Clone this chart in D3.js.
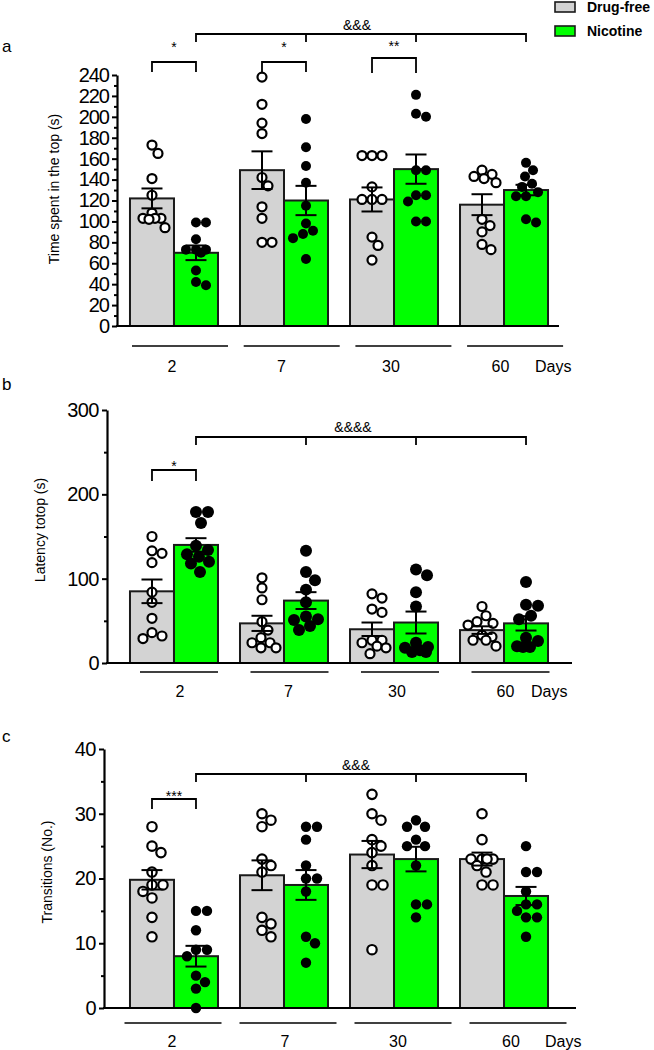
<!DOCTYPE html>
<html><head><meta charset="utf-8">
<script src="https://cdn.jsdelivr.net/npm/d3@7"></script>
<style>
body{margin:0;background:#fff}
svg{display:block}
text{font-family:"Liberation Sans",Arial,Helvetica,sans-serif;fill:#000}
</style>
</head><body>
<svg id="chart" width="654" height="1050"></svg>
<script>
// ---------------- DATA ----------------
const days = ["2", "7", "30", "60"];
const series = ["Drug-free", "Nicotine"];

// Panel a: Time spent in the top (s)
const timeTicks = [0,20,40,60,80,100,120,140,160,180,200,220,240];
const timeMinor = [10,30,50,70,90,110,130,150,170,190,210,230];
const timeDrugFreeMean = [122, 149, 121, 116];
const timeDrugFreeSem  = [9.5, 18, 11.5, 10];
const timeNicotineMean = [70, 120, 150, 130];
const timeNicotineSem  = [7, 14, 14, 5];
const timeDrugFreePts = [
  [173,165,141,125,108,103,103,103,102,94],
  [238,212,194,184,142,134,114,103,80,80],
  [163,163,163,133,121,121,121,85,77,63],
  [149,145,143,141,137,102,96,90,78,73]
];
const timeNicotinePts = [
  [99,99,83,73,73,73,70,53,39,42],
  [198,171,153,137,115,98,91,88,84,64],
  [221,203,200,149,149,125,125,119,100,100],
  [156,149,143,136,133,128,124,124,102,99]
];

// Panel b: Latency to top (s)
const latTicks = [0,100,200,300];
const latMinor = [50,150,250];
const latDrugFreeMean = [85, 47, 40, 39];
const latDrugFreeSem  = [14, 9, 8, 4.5];
const latNicotineMean = [140, 74, 48, 47];
const latNicotineSem  = [8, 10, 13, 8.5];
const latDrugFreePts = [
  [150,133,130,119,84,72,53,36,32,29],
  [101,89,75,49,39,30,24,24,18,18],
  [82,77,64,60,27,27,24,20,18,11],
  [67,56,49,47,45,33,31,27,27,20]
];
const latNicotinePts = [
  [179,179,166,139,134,129,126,120,118,108],
  [133,108,98,87,72,55,52,51,44,39],
  [111,104,84,67,24,19,18,15,13,13],
  [96,69,68,56,52,30,26,20,19,19]
];

// Panel c: Transitions (No.)
const transTicks = [0,10,20,30,40];
const transMinor = [5,15,25,35];
const transDrugFreeMean = [19.8, 20.5, 23.7, 23];
const transDrugFreeSem  = [1.5, 2.3, 2.1, 1.0];
const transNicotineMean = [8, 19, 23, 17.3];
const transNicotineSem  = [1.6, 2.3, 1.9, 1.4];
const transDrugFreePts = [
  [28,25,24,21,19,19,18,17,14,11],
  [30,29,28,23,22,21,14,13,12,11],
  [33,30,29,26,25,24,22,19,19,9],
  [30,26,23,23,23,23,22,21,19,19]
];
const transNicotinePts = [
  [15,15,12,9,9,8,5,4,3,0],
  [28,28,26,22,20,20,18,11,10,7],
  [29,28,28,26,25,25,22,16,16,14],
  [25,21,21,18,16,16,15,14,14,11]
];

// significance annotations
const sigA = [{day:"2", label:"*"}, {day:"7", label:"*"}, {day:"30", label:"**"}];
const sigB = [{day:"2", label:"*"}];
const sigC = [{day:"2", label:"***"}];
const longA = "&&&", longB = "&&&&", longC = "&&&";

// ---------------- LAYOUT ----------------
const svg = d3.select("#chart");
const colors = {"Drug-free":"#d3d3d3", "Nicotine":"#00ff00"};
const x = d3.scaleBand().domain(days).range([117, 561]).paddingInner(0.2).paddingOuter(0.118);
const xs = d3.scaleBand().domain(series).range([0, x.bandwidth()]).padding(0);
const barCenter = (d, s) => x(d) + xs(s) + xs.bandwidth() / 2;

const panels = [
  {letter:"a", letterY:52, title:"Time spent in the top (s)", titleX:54, titleY:189,
   ticks:timeTicks, minor:timeMinor, domain:[0,240], yr:[326,75], axisX:117, xEnd:559, fs:20, ls:-1,
   mean:[timeDrugFreeMean, timeNicotineMean], sem:[timeDrugFreeSem, timeNicotineSem],
   pts:[timeDrugFreePts, timeNicotinePts], r:[5,5],
   ul:{y:346, start:180, step:111.7, w:96}, lab:{y:372, start:172, step:109.5}, daysX:535,
   sig:sigA, sigTop:[62,62,58], sigLeg:[72,72,73], sigText:[52,52,51],
   long:longA, longY:34, longLeg:42, longTextX:357, longTextY:30},
  {letter:"b", letterY:390, title:"Latency totop (s)", titleX:40, titleY:530,
   ticks:latTicks, minor:latMinor, domain:[0,300], yr:[663,410], axisX:107, xEnd:572, fs:20, ls:-0.5,
   mean:[latDrugFreeMean, latNicotineMean], sem:[latDrugFreeSem, latNicotineSem],
   pts:[latDrugFreePts, latNicotinePts], r:[5,6],
   ul:{y:672, start:179, step:110.5, w:78}, lab:{y:697, start:180, step:108.5}, daysX:531,
   sig:sigB, sigTop:[470], sigLeg:[481], sigText:[471],
   long:longB, longY:437, longLeg:445, longTextX:353, longTextY:432},
  {letter:"c", letterY:742, title:"Transitions (No.)", titleX:47, titleY:872,
   ticks:transTicks, minor:transMinor, domain:[0,40], yr:[1008,749], axisX:104, xEnd:576, fs:20, ls:-0.5,
   mean:[transDrugFreeMean, transNicotineMean], sem:[transDrugFreeSem, transNicotineSem],
   pts:[transDrugFreePts, transNicotinePts], r:[5.2,5.2],
   ul:{y:1023, start:173, step:115, w:97}, lab:{y:1047, start:172, step:113}, daysX:545,
   sig:sigC, sigTop:[799], sigLeg:[809], sigText:[801],
   long:longC, longY:774, longLeg:782, longTextX:356, longTextY:770}
];

// deterministic swarm layout, constrained to the bar width
function swarm(vals, cx, y, r, maxOff) {
  const placed = [];
  const order = vals.map((v, i) => ({v, i})).sort((a, b) => b.v - a.v);
  const minD = 2 * r;
  const cands = [0];
  for (let o = 1; o <= maxOff; o += 1) { cands.push(o, -o); }
  for (const p of order) {
    const py = y(p.v);
    let best = null, bestScore = -1;
    for (const off of cands) {
      const px = cx + off;
      const d = placed.length ? d3.min(placed, q => Math.hypot(q.x - px, q.y - py)) : Infinity;
      if (d >= minD) { best = px; break; }
      if (d > bestScore) { bestScore = d; best = px; }
    }
    placed.push({x: best, y: py, v: p.v});
  }
  return placed;
}

panels.forEach(P => {
  const g = svg.append("g");
  const y = d3.scaleLinear().domain(P.domain).range(P.yr);

  // panel letter
  g.append("text").attr("x", 2).attr("y", P.letterY).attr("font-size", 17).text(P.letter);

  // y title
  g.append("text").attr("transform", `translate(${P.titleX},${P.titleY}) rotate(-90)`)
    .attr("text-anchor", "middle").attr("dominant-baseline", "central")
    .attr("font-size", 14).text(P.title);

  // bars
  series.forEach((s, si) => {
    g.selectAll(null).data(days).join("rect")
      .attr("x", d => x(d) + xs(s))
      .attr("width", xs.bandwidth())
      .attr("y", (d, i) => y(P.mean[si][i]))
      .attr("height", (d, i) => y(0) - y(P.mean[si][i]))
      .attr("fill", colors[s]).attr("stroke", "#1a1a1a").attr("stroke-width", 2);
  });

  // points
  series.forEach((s, si) => {
    days.forEach((d, di) => {
      const r = P.r[si];
      const pos = swarm(P.pts[si][di], barCenter(d, s), y, r, xs.bandwidth() / 2 - r - 3);
      g.selectAll(null).data(pos).join("circle")
        .attr("cx", p => p.x).attr("cy", p => p.y)
        .attr("r", si === 0 ? r - 0.5 : r)
        .attr("fill", si === 0 ? "#fff" : "#000")
        .attr("stroke", "#000").attr("stroke-width", si === 0 ? 2.2 : 0);
    });
  });

  // error bars
  series.forEach((s, si) => {
    days.forEach((d, di) => {
      const cx = barCenter(d, s), m = P.mean[si][di], e = P.sem[si][di];
      const eg = g.append("g").attr("stroke", "#000").attr("stroke-width", 2);
      eg.append("line").attr("x1", cx).attr("x2", cx).attr("y1", y(m - e)).attr("y2", y(m + e));
      [m - e, m + e].forEach(v => eg.append("line").attr("x1", cx - 10.5).attr("x2", cx + 10.5)
        .attr("y1", y(v)).attr("y2", y(v)));
    });
  });

  // y axis
  const ax = g.append("g").attr("transform", `translate(${P.axisX},0)`)
    .call(d3.axisLeft(y).tickValues(P.ticks).tickSize(5).tickSizeOuter(0).tickPadding(3));
  ax.select(".domain").attr("stroke-width", 2.2);
  ax.selectAll(".tick line").attr("stroke-width", 2);
  ax.selectAll(".tick text").attr("font-size", P.fs)
    .attr("font-family", "'Liberation Sans',Arial,sans-serif").attr("letter-spacing", P.ls);
  const axm = g.append("g").attr("transform", `translate(${P.axisX},0)`)
    .call(d3.axisLeft(y).tickValues(P.minor).tickSize(3).tickSizeOuter(0).tickFormat(""));
  axm.select(".domain").remove();
  axm.selectAll(".tick line").attr("stroke-width", 2);

  // x axis baseline
  g.append("line").attr("x1", P.axisX - 1).attr("x2", P.xEnd).attr("y1", y(0)).attr("y2", y(0))
    .attr("stroke", "#000").attr("stroke-width", 2.2);

  // group underlines + labels
  days.forEach((d, i) => {
    const uc = P.ul.start + i * P.ul.step;
    g.append("line").attr("x1", uc - P.ul.w / 2).attr("x2", uc + P.ul.w / 2)
      .attr("y1", P.ul.y).attr("y2", P.ul.y).attr("stroke", "#000").attr("stroke-width", 1.6);
    g.append("text").attr("x", P.lab.start + i * P.lab.step).attr("y", P.lab.y)
      .attr("text-anchor", "middle").attr("font-size", 16).text(d);
  });
  g.append("text").attr("x", P.daysX).attr("y", P.lab.y).attr("font-size", 16).text("Days");

  // significance brackets (pairwise)
  P.sig.forEach((sg, i) => {
    const x1 = barCenter(sg.day, "Drug-free"), x2 = barCenter(sg.day, "Nicotine");
    g.append("path").attr("d", `M${x1},${P.sigLeg[i]}V${P.sigTop[i]}H${x2}V${P.sigLeg[i]}`)
      .attr("fill", "none").attr("stroke", "#000").attr("stroke-width", 1.8);
    g.append("text").attr("x", (x1 + x2) / 2).attr("y", P.sigText[i])
      .attr("text-anchor", "middle").attr("font-size", 14).text(sg.label);
  });

  // long bracket across days (nicotine)
  const lx = days.map(d => barCenter(d, "Nicotine"));
  g.append("path").attr("d", `M${lx[0]},${P.longLeg}V${P.longY}H${lx[3]}V${P.longLeg}`)
    .attr("fill", "none").attr("stroke", "#000").attr("stroke-width", 1.8);
  [lx[1], lx[2]].forEach(xx => g.append("line").attr("x1", xx).attr("x2", xx)
    .attr("y1", P.longY).attr("y2", P.longLeg).attr("stroke", "#000").attr("stroke-width", 1.8));
  g.append("text").attr("x", P.longTextX).attr("y", P.longTextY)
    .attr("text-anchor", "middle").attr("font-size", 14).text(P.long);
});

// legend
const leg = svg.append("g");
series.forEach((s, i) => {
  leg.append("rect").attr("x", 555).attr("y", 2 + i * 24).attr("width", 20).attr("height", 10)
    .attr("fill", colors[s]).attr("stroke", "#1a1a1a").attr("stroke-width", 1.6);
  leg.append("text").attr("x", 587).attr("y", 12 + i * 24).attr("font-size", 14)
    .attr("font-weight", "bold").text(s);
});
</script>
</body></html>
